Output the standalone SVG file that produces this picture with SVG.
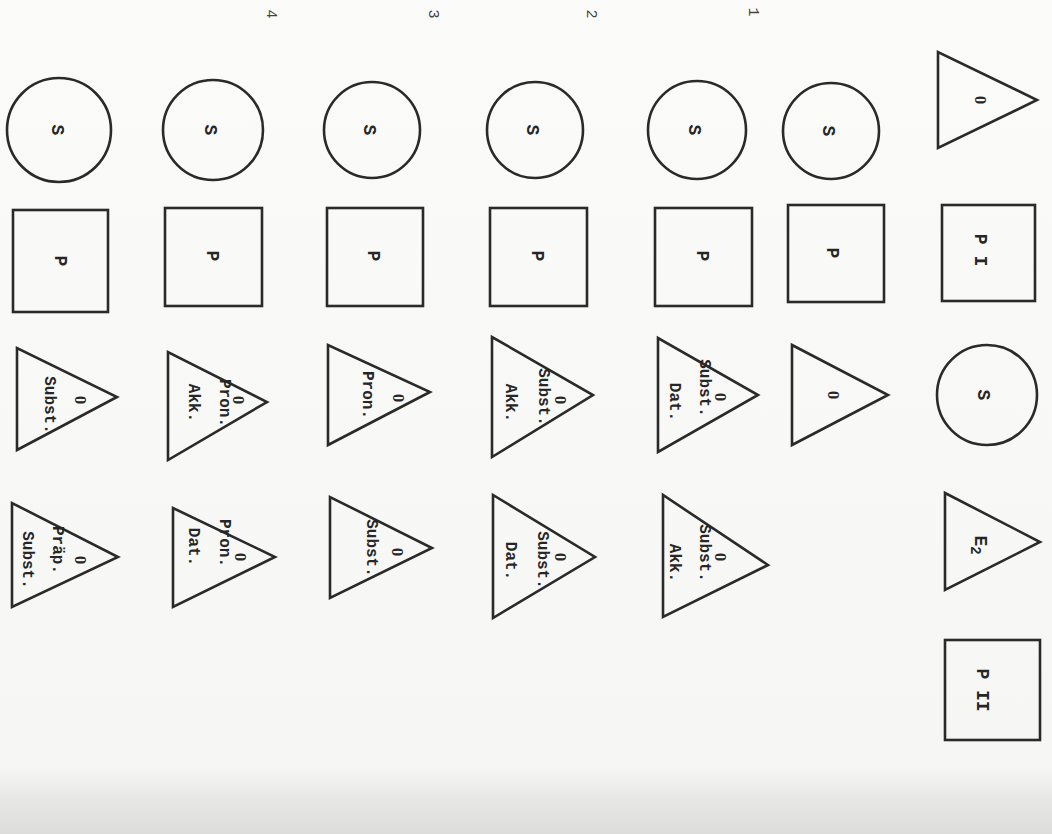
<svg xmlns="http://www.w3.org/2000/svg" width="1052" height="834" viewBox="0 0 1052 834">
<defs>
<linearGradient id="paper" x1="0" y1="0" x2="0" y2="1">
<stop offset="0" stop-color="#fbfbfa"/>
<stop offset="0.92" stop-color="#f6f6f4"/>
<stop offset="0.96" stop-color="#e6e6e4"/>
<stop offset="1" stop-color="#dddddb"/>
</linearGradient>
<style>
.sh{fill:none;stroke:#2a2a2a;stroke-width:2.6;stroke-linejoin:miter}
.t{font-family:"Liberation Mono","DejaVu Sans Mono",monospace;font-size:16px;font-weight:bold;fill:#262626;text-anchor:middle;dominant-baseline:central}
.b{font-size:18px}
.z{font-family:"Liberation Serif","DejaVu Serif",serif;font-size:17px;font-weight:bold;fill:#262626;text-anchor:middle;dominant-baseline:central}
.n{font-family:"Liberation Mono","DejaVu Sans Mono",monospace;font-size:15px;fill:#444;text-anchor:middle;dominant-baseline:central}
</style>
</defs>
<rect width="1052" height="834" fill="url(#paper)"/>

<!-- Row A -->
<g id="a-o"><polygon class="sh" points="938,52 938,148 1037,100"/><text class="z" transform="translate(980,100) rotate(90)">0</text></g>
<g id="a-p1"><rect class="sh" x="942" y="205" width="93" height="96"/><text class="t b" transform="translate(980,250) rotate(90)">P I</text></g>
<g id="a-s"><circle class="sh" cx="987" cy="395" r="50"/><text class="t b" transform="translate(983,395) rotate(90)">S</text></g>
<g id="a-e2"><polygon class="sh" points="945,493 945,590 1040,542"/><text class="t b" transform="translate(980,545) rotate(90)">E<tspan dy="5" font-size="14">2</tspan></text></g>
<g id="a-p2"><rect class="sh" x="945" y="640" width="95" height="100"/><text class="t b" transform="translate(982,690) rotate(90)">P II</text></g>

<!-- Row B -->
<g id="b-s"><circle class="sh" cx="831" cy="131" r="48"/><text class="t b" transform="translate(828,131) rotate(90)">S</text></g>
<g id="b-p"><rect class="sh" x="788" y="205" width="96" height="97"/><text class="t b" transform="translate(832,253) rotate(90)">P</text></g>
<g id="b-o"><polygon class="sh" points="792,345 792,445 888,395"/><text class="z" transform="translate(833,395) rotate(90)">0</text></g>

<!-- Row C (1) -->
<text class="n" transform="translate(752,12) rotate(90)">1</text>
<g id="c-s"><circle class="sh" cx="697" cy="130" r="49"/><text class="t b" transform="translate(694,130) rotate(90)">S</text></g>
<g id="c-p"><rect class="sh" x="655" y="208" width="97" height="98"/><text class="t b" transform="translate(702,256) rotate(90)">P</text></g>
<g id="c-o1"><polygon class="sh" points="658,338 658,452 758,395"/>
<text class="z" transform="translate(720,397) rotate(90)">0</text>
<text class="t" transform="translate(704,388) rotate(90)">Subst.</text>
<text class="t" transform="translate(674,402) rotate(90)">Dat.</text></g>
<g id="c-o2"><polygon class="sh" points="663,495 663,617 768,565"/>
<text class="z" transform="translate(720,557) rotate(90)">0</text>
<text class="t" transform="translate(704,553) rotate(90)">Subst.</text>
<text class="t" transform="translate(674,563) rotate(90)">Akk.</text></g>

<!-- Row D -->
<g id="d-s"><circle class="sh" cx="535" cy="130" r="48"/><text class="t b" transform="translate(532,130) rotate(90)">S</text></g>
<g id="d-p"><rect class="sh" x="490" y="208" width="97" height="98"/><text class="t b" transform="translate(537,256) rotate(90)">P</text></g>
<g id="d-o1"><polygon class="sh" points="492,337 492,457 593,395"/>
<text class="z" transform="translate(560,400) rotate(90)">0</text>
<text class="t" transform="translate(543,397) rotate(90)">Subst.</text>
<text class="t" transform="translate(510,403) rotate(90)">Akk.</text></g>
<g id="d-o2"><polygon class="sh" points="493,495 493,618 595,557"/>
<text class="z" transform="translate(560,557) rotate(90)">0</text>
<text class="t" transform="translate(542,560) rotate(90)">Subst.</text>
<text class="t" transform="translate(510,561) rotate(90)">Dat.</text></g>

<!-- Row E (2) -->
<text class="n" transform="translate(590,14) rotate(90)">2</text>
<g id="e-s"><circle class="sh" cx="372" cy="130" r="48"/><text class="t b" transform="translate(369,130) rotate(90)">S</text></g>
<g id="e-p"><rect class="sh" x="327" y="208" width="96" height="98"/><text class="t b" transform="translate(373,256) rotate(90)">P</text></g>
<g id="e-o1"><polygon class="sh" points="328,345 328,445 430,392"/>
<text class="z" transform="translate(398,398) rotate(90)">0</text>
<text class="t" transform="translate(367,395) rotate(90)">Pron.</text></g>
<g id="e-o2"><polygon class="sh" points="330,497 330,598 432,548"/>
<text class="z" transform="translate(397,552) rotate(90)">0</text>
<text class="t" transform="translate(371,548) rotate(90)">Subst.</text></g>

<!-- Row F (3) -->
<text class="n" transform="translate(432,14) rotate(90)">3</text>
<g id="f-s"><circle class="sh" cx="213" cy="130" r="50"/><text class="t b" transform="translate(210,130) rotate(90)">S</text></g>
<g id="f-p"><rect class="sh" x="165" y="208" width="97" height="98"/><text class="t b" transform="translate(212,256) rotate(90)">P</text></g>
<g id="f-o1"><polygon class="sh" points="168,352 168,460 267,402"/>
<text class="z" transform="translate(238,400) rotate(90)">0</text>
<text class="t" transform="translate(224,403) rotate(90)">Pron.</text>
<text class="t" transform="translate(193,403) rotate(90)">Akk.</text></g>
<g id="f-o2"><polygon class="sh" points="173,508 173,607 275,557"/>
<text class="z" transform="translate(240,557) rotate(90)">0</text>
<text class="t" transform="translate(224,543) rotate(90)">Pron.</text>
<text class="t" transform="translate(193,547) rotate(90)">Dat.</text></g>

<!-- Row G (4) -->
<text class="n" transform="translate(270,14) rotate(90)">4</text>
<g id="g-s"><circle class="sh" cx="59" cy="130" r="52"/><text class="t b" transform="translate(57,130) rotate(90)">S</text></g>
<g id="g-p"><rect class="sh" x="13" y="210" width="95" height="102"/><text class="t b" transform="translate(60,261) rotate(90)">P</text></g>
<g id="g-o1"><polygon class="sh" points="17,348 17,450 117,397"/>
<text class="z" transform="translate(80,400) rotate(90)">0</text>
<text class="t" transform="translate(49,405) rotate(90)">Subst.</text></g>
<g id="g-o2"><polygon class="sh" points="12,503 12,607 118,557"/>
<text class="z" transform="translate(80,560) rotate(90)">0</text>
<text class="t" transform="translate(57,550) rotate(90)">Präp.</text>
<text class="t" transform="translate(27,560) rotate(90)">Subst.</text></g>
</svg>
